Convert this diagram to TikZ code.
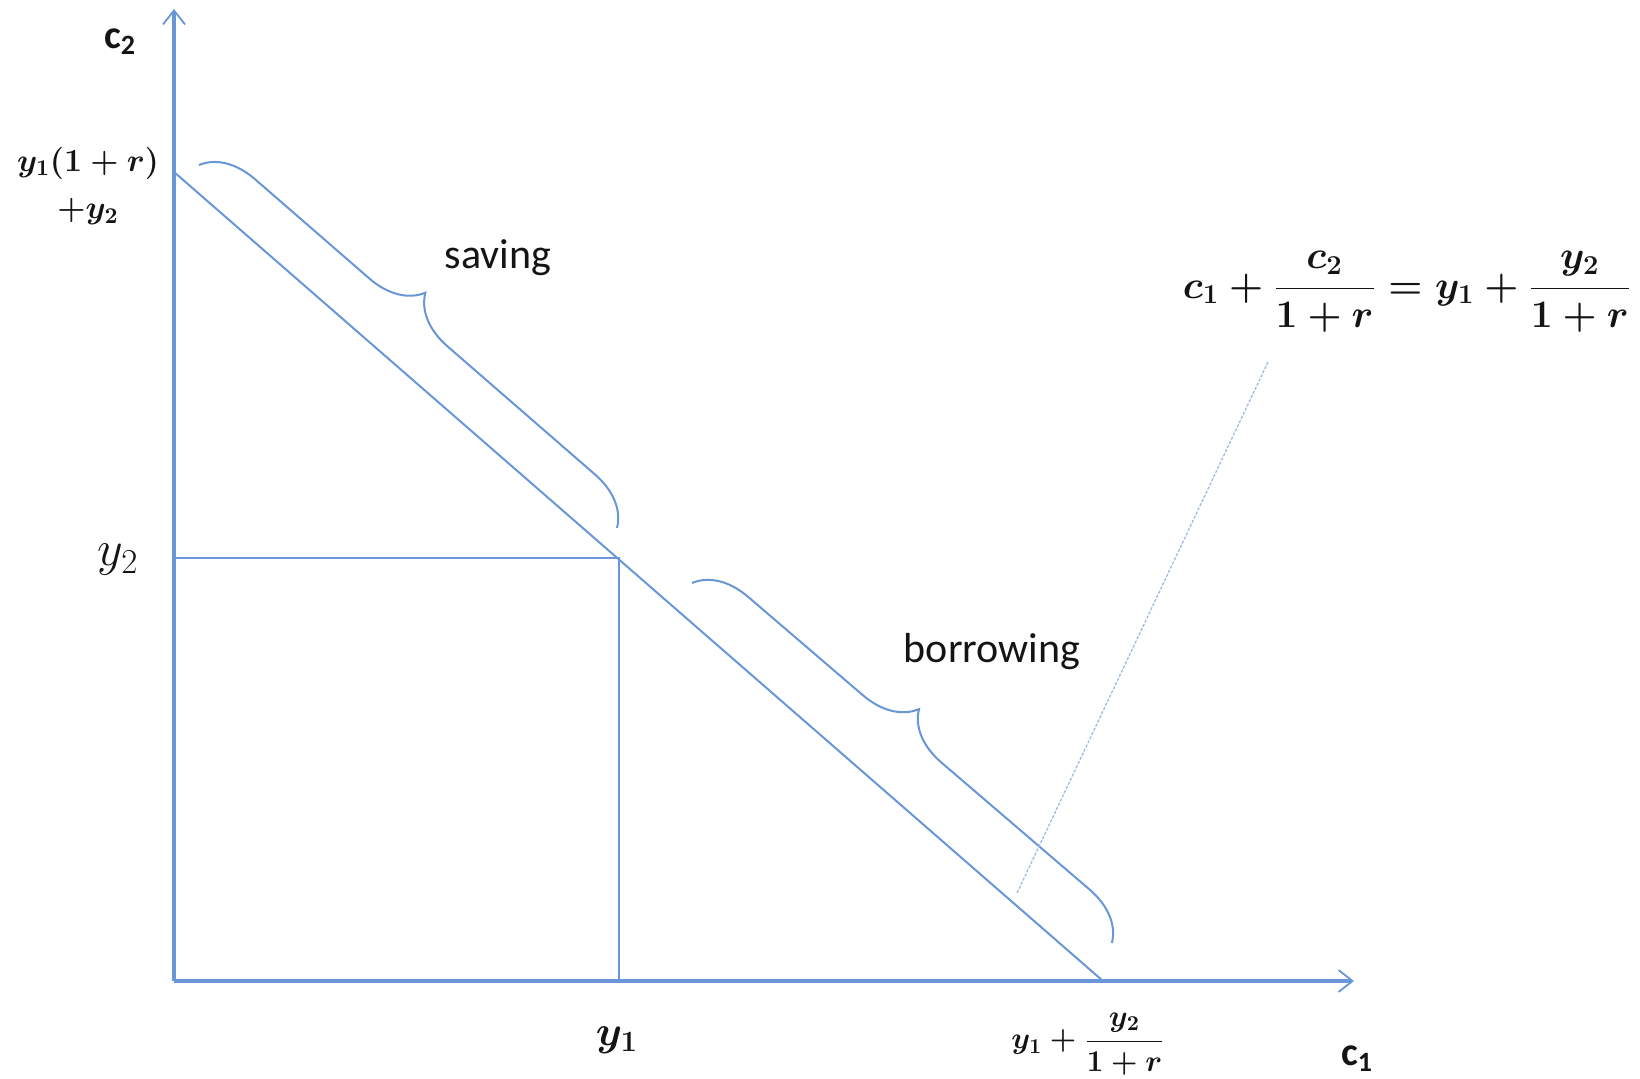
\RequirePackage{fix-cm}
\documentclass[tikz,border=0pt]{standalone}
\usepackage{fontspec}
\setsansfont{Carlito}
\usetikzlibrary{arrows.meta,decorations.pathreplacing}
\definecolor{ln}{RGB}{104,150,214}
\definecolor{txt}{RGB}{20,20,20}
\begin{document}
\begin{tikzpicture}[x=0.5pt,y=-0.5pt,
  axisline/.style={draw=ln, line width=1.8pt, -{Straight Barb[length=7pt,width=11pt,line width=0.9pt]}},
  budget/.style={draw=ln, line width=1pt},
  guide/.style={draw=ln, line width=0.8pt},
  bracestyle/.style={draw=ln, line width=1pt, decorate, decoration={brace, amplitude=26pt, aspect=0.46}},
  leader/.style={draw=ln!65, line width=0.65pt, dash pattern=on 1.5pt off 0.8pt},
  lbl/.style={inner sep=0pt, text=txt},
  word/.style={inner sep=0pt, text=txt, font=\sffamily\fontsize{21}{25}\selectfont},
  axlbl/.style={inner sep=0pt, text=txt, font=\sffamily\bfseries\fontsize{20}{24}\selectfont}]
\useasboundingbox (0,0) rectangle (1640,1079);
% key points
\coordinate (O) at (174,981);
\coordinate (Ytop) at (174,9);
\coordinate (Xend) at (1354,981);
\coordinate (A) at (174,172);
\coordinate (B) at (1103,981);
\coordinate (E) at (619,558);
\coordinate (Y2) at (174,558);
\coordinate (Y1) at (619,981);
\coordinate (S1) at (199,165);
\coordinate (S2) at (617,528);
\coordinate (B1) at (692,583);
\coordinate (B2) at (1112,943);
\coordinate (L1) at (1268,362);
\coordinate (L2) at (1017,893);
% axes
\draw[axisline] (O) -- (Ytop);
\draw[axisline] (O) -- (Xend);
% budget line and guides
\draw[budget] (A) -- (B);
\draw[guide] (Y2) -- (E) -- (Y1);
% braces
\draw[bracestyle] (S1) -- (S2);
\draw[bracestyle] (B1) -- (B2);
% leader
\draw[leader] (L1) -- (L2);
% labels
\node[axlbl] (c2) at (120,42) {c\textsubscript{2}};
\node[axlbl] (c1) at (1357,1059) {c\textsubscript{1}};
\node[lbl, font=\boldmath\fontsize{16.1}{21}\selectfont] (top1) at (88,163) {$y_1(1+r)$};
\node[lbl, font=\boldmath\fontsize{16.1}{21}\selectfont] (top2) at (88,212) {$+y_2$};
\node[lbl, font=\fontsize{25}{30}\selectfont] (y2l) at (118,560) {$y_2$};
\node[lbl, font=\boldmath\fontsize{21}{26}\selectfont] (y1l) at (617,1040) {$y_1$};
\node[lbl, font=\boldmath\fontsize{15.1}{20}\selectfont] (intl) at (1088,1044) {$\displaystyle y_1+\frac{y_2}{1+r}$};
\node[word] (sav) at (498,258) {saving};
\node[word] (bor) at (992,652) {borrowing};
\node[lbl, font=\boldmath\fontsize{19.5}{24}\selectfont] (eq) at (1407,292) {$\displaystyle c_1+\frac{c_2}{1+r}=y_1+\frac{y_2}{1+r}$};
\end{tikzpicture}
\end{document}
